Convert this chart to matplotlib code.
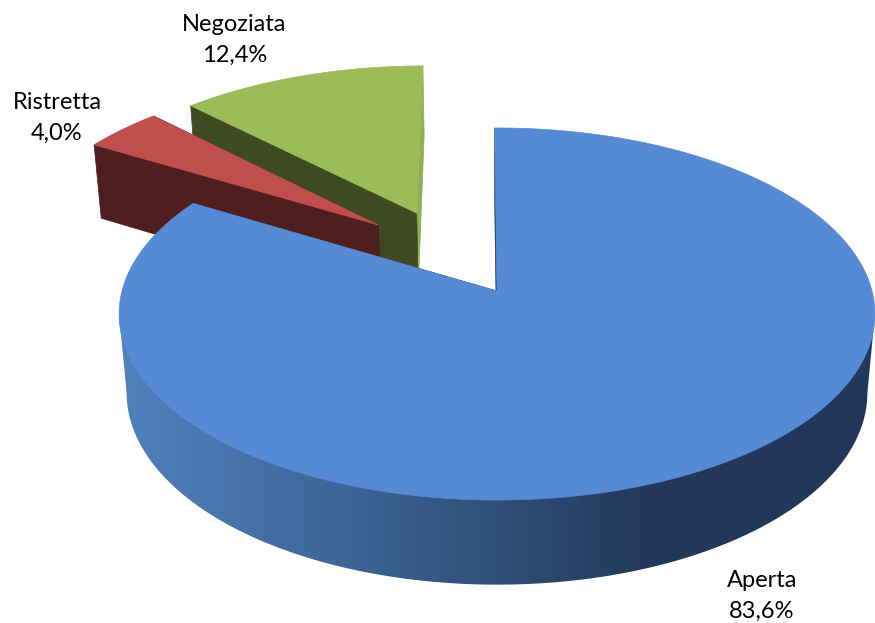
import numpy as np
import matplotlib
matplotlib.use('Agg')
import matplotlib.pyplot as plt
from matplotlib.colors import LinearSegmentedColormap
from matplotlib.patches import Polygon

labels = ['Aperta', 'Ristretta', 'Negoziata']
shares = [83.6, 4.0, 12.4]
share_labels = ['83,6%', '4,0%', '12,4%']

top_colors = ['#558AD5', '#BE4F4C', '#9BBB59']
cut_colors = ['#1F3A5F', '#4F1E1E', '#3F4A21']
end_colors = ['#1F3A5F', '#4F1E1E', '#8FAF52']

# slice offset in the pie plane, in radius units
explode = [(0.0, 0.0), (-0.331, 0.377), (-0.226, 0.449)]
# x centre and baseline of the last label line
label_pos = [(762, 618), (57, 140), (234.5, 62)]

# projection of the pie plane to pixels
CX, CY = 497, 291
RX, RY, DEPTH = 375, 183.2, 80
PERSP, PERSP_Z = 0.1237, 0.02
START_ANGLE = -0.4

side_cmap = LinearSegmentedColormap.from_list(
    'side', [(0, '#4F82BE'), (0.43, '#3D6596'), (0.71, '#2F5078'), (1, '#22385A')])


def project(u, v, z=0.0):
    w = 1 + PERSP * v + PERSP_Z * z
    return CX + RX * u / w, CY + (-RY * v + DEPTH * z) / w


def wedge_rim(a0, a1, off, z=0.0, n=300):
    t = np.radians(np.linspace(a0, a1, n))
    return project(np.sin(t) + off[0], np.cos(t) + off[1], z)


fig = plt.figure(figsize=(8.75, 6.23), dpi=100)
ax = fig.add_axes([0, 0, 1, 1])

angles = START_ANGLE + np.cumsum([0] + shares) * 3.6
# painter's order: exploded slices at the back first
for order, i in enumerate([2, 1, 0]):
    a0, a1 = angles[i], angles[i + 1]
    off = explode[i]
    base = 10 * (order + 1)

    x0, y0 = wedge_rim(a0, a1, off)
    x1, y1 = wedge_rim(a0, a1, off, z=1)

    # outer wall of the big slice, shaded left to right
    if i == 0:
        # only the front part of the rim, between the two tangent points
        tangent = np.degrees(np.arccos(-PERSP))
        xf, yf = wedge_rim(tangent, 360 - tangent, off, z=1)
        xa, ya = project(np.sin(np.radians(tangent)), np.cos(np.radians(tangent)))
        xb, yb = project(-np.sin(np.radians(tangent)), np.cos(np.radians(tangent)))
        wall = np.column_stack([np.r_[xa, xf, xb], np.r_[ya, yf, yb]])
        wall_patch = Polygon(wall, closed=True, facecolor='none', edgecolor='none')
        ax.add_patch(wall_patch)
        grad = ax.imshow(np.linspace(0, 1, 512).reshape(1, -1), cmap=side_cmap, aspect='auto',
                         extent=(119, 650, 623, 0), zorder=base)
        grad.set_clip_path(wall_patch)
        # right of the gradient the wall stays dark
        dark = ax.imshow([[1, 1]], cmap=side_cmap, vmin=0, vmax=1, aspect='auto',
                         extent=(650, 875, 623, 0), zorder=base)
        dark.set_clip_path(wall_patch)

    # the two cut faces
    apex_top = project(off[0], off[1])
    apex_bot = project(off[0], off[1], 1)
    end_face = [apex_top, (x0[-1], y0[-1]), (x1[-1], y1[-1]), apex_bot]
    ax.add_patch(Polygon(end_face, closed=True, facecolor=end_colors[i], edgecolor=end_colors[i],
                         lw=0.5, zorder=base + 1))
    start_face = [apex_top, (x0[0], y0[0]), (x1[0], y1[0]), apex_bot]
    ax.add_patch(Polygon(start_face, closed=True, facecolor=cut_colors[i], edgecolor=cut_colors[i],
                         lw=0.5, zorder=base + 2))

    # top
    top = [apex_top] + list(zip(x0, y0))
    ax.add_patch(Polygon(top, closed=True, facecolor=top_colors[i], edgecolor=top_colors[i],
                         lw=0.5, zorder=base + 3))

for name, share, pos in zip(labels, share_labels, label_pos):
    ax.text(pos[0], pos[1], name + '\n' + share, ha='center', va='baseline', fontsize=17,
            family=['Lato', 'DejaVu Sans'], color='black', linespacing=1.58, zorder=50)

ax.set_xlim(0, 875)
ax.set_ylim(623, 0)
ax.axis('off')

fig.savefig('out.png', dpi=100)
